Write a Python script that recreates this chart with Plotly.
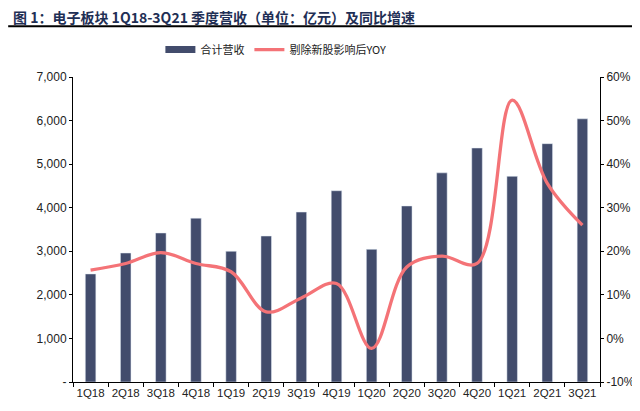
import plotly.graph_objects as go

# data part
quarters = ["1Q18", "2Q18", "3Q18", "4Q18", "1Q19", "2Q19", "3Q19", "4Q19",
            "1Q20", "2Q20", "3Q20", "4Q20", "1Q21", "2Q21", "3Q21"]
revenue = [2480, 2960, 3420, 3760, 3000, 3350, 3900, 4390,
           3045, 4040, 4800, 5370, 4720, 5470, 6040]
yoy = [15.7, 17.2, 19.7, 17.2, 15.3, 6.1, 9.3, 12.6,
       -2.3, 16.4, 18.9, 17.2, 54.7, 35.6, 26.0]

left_vals = [0, 1000, 2000, 3000, 4000, 5000, 6000, 7000]
left_text = ["-", "1,000", "2,000", "3,000", "4,000", "5,000", "6,000", "7,000"]
right_vals = [-10, 0, 10, 20, 30, 40, 50, 60]
right_text = [f"{v}%" for v in right_vals]

cs = {
    "bar": "#424C6C",
    "line": "#F47377",
    "title": "#1F2F55",
}

font_cn = "Noto Sans CJK SC"
font_num = "Liberation Sans, Arial"

fig = go.Figure()

fig.add_trace(go.Bar(
    x=quarters,
    y=revenue,
    name="合计营收",
    marker_color=cs["bar"],
    width=0.3,
    showlegend=False,
))

# legend-only entry so the bar swatch is a wide block like the original
fig.add_trace(go.Scatter(
    x=[None], y=[None],
    name="合计营收",
    mode="lines",
    line=dict(color=cs["bar"], width=7),
))

fig.add_trace(go.Scatter(
    x=quarters,
    y=yoy,
    name="剔除新股影响后YOY",
    yaxis="y2",
    mode="lines",
    line=dict(color=cs["line"], width=3.3, shape="spline", smoothing=1.0),
))

# page body has an 8px margin, so the figure is 8px smaller each way
fig.update_layout(
    width=632,
    height=403,
    margin=dict(l=65, r=40, t=69, b=29, autoexpand=False),
    plot_bgcolor="white",
    paper_bgcolor="white",
    font=dict(family=font_num, size=12, color="#222222"),
    showlegend=True,
    legend=dict(
        orientation="h",
        x=0.385, y=1.09,
        xanchor="center", yanchor="middle",
        font=dict(family=font_cn, size=11, color="#222222"),
        itemwidth=30,
    ),
    xaxis=dict(
        showline=True, linecolor="black", linewidth=1,
        ticks="outside", tickson="boundaries", ticklen=4, tickcolor="black",
        tickfont=dict(family=font_num, size=11.5),
        tickangle=0, automargin=False,
        showgrid=False,
    ),
    yaxis=dict(
        range=[0, 7000],
        tickvals=left_vals, ticktext=left_text,
        showline=True, linecolor="black", linewidth=1,
        ticks="outside", ticklen=3, tickcolor="black",
        showgrid=False, zeroline=False, automargin=False,
        tickfont=dict(family=font_num, size=12),
    ),
    yaxis2=dict(
        range=[-10, 60],
        overlaying="y", side="right",
        tickvals=right_vals, ticktext=right_text,
        showline=True, linecolor="black", linewidth=1,
        ticks="outside", ticklen=3, tickcolor="black",
        showgrid=False, zeroline=False, automargin=False,
        tickfont=dict(family=font_num, size=12),
    ),
)

# title and rule under it
fig.add_annotation(
    text="<b>图 1：电子板块 1Q18-3Q21 季度营收（单位：亿元）及同比增速</b>",
    xref="paper", yref="paper",
    x=-0.118, y=1.196, xanchor="left", yanchor="middle",
    showarrow=False,
    font=dict(family=font_cn, size=14, color=cs["title"]),
)
fig.add_shape(
    type="line", xref="paper", yref="paper",
    x0=-0.123, x1=1.08, y0=1.166, y1=1.166,
    line=dict(color="black", width=2),
)

fig.write_html("out.html")
